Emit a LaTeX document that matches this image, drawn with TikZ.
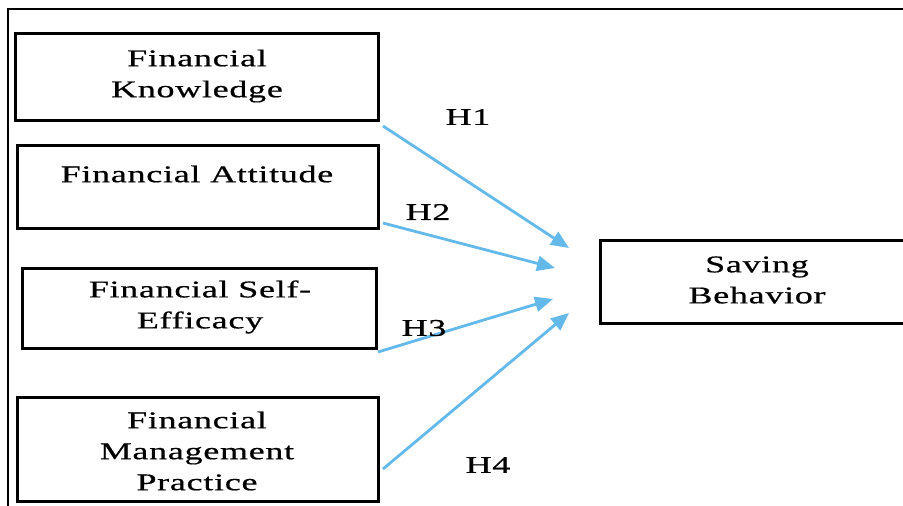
\documentclass[tikz,border=0pt]{standalone}
\usepackage{fontspec}
\setmainfont{Liberation Serif}[FakeStretch=1.5,LetterSpace=3,FakeBold=0.6]
\usetikzlibrary{arrows.meta}
\definecolor{arrowblue}{RGB}{100,185,235}
\tikzset{
  box/.style={draw=black, line width=3pt, inner sep=0pt},
  lbl/.style={font=\fontsize{24}{31}\selectfont, align=center, inner sep=0pt},
  hyp/.style={font=\fontsize{24}{28}\selectfont, inner sep=0pt},
  link/.style={draw=arrowblue, line width=2.8pt, -{Triangle[length=18pt,width=15pt]}},
  frame/.style={line width=1.5pt}
}
\begin{document}
\begin{tikzpicture}[x=1pt,y=-1pt]
\clip (0,0) rectangle (903,506);
\fill[white] (0,0) rectangle (903,506);
% frame lines
\draw[frame] (8,506) -- (8,9) -- (903,9);
% boxes
\draw[box] (15,33) rectangle (378,120);
\node[lbl] (fk) at (197,76) {Financial\\Knowledge};
\draw[box] (17,145) rectangle (378,228);
\node[lbl] (fa) at (197,174) {Financial Attitude};
\draw[box] (22,268) rectangle (376,348);
\node[lbl] (fse) at (200,307) {Financial Self-\\Efficacy};
\draw[box] (17,397) rectangle (378,501);
\node[lbl] (fmp) at (197,451) {Financial\\Management\\Practice};
\draw[box] (600,240) rectangle (915,323);
\node[lbl] (sb) at (757,280) {Saving\\Behavior};
% connector ends
\coordinate (s1) at (383,126);
\coordinate (t1) at (569,248);
\coordinate (s2) at (383,223);
\coordinate (t2) at (555,268);
\coordinate (s3) at (378,352);
\coordinate (t3) at (553,299);
\coordinate (s4) at (383,469);
\coordinate (t4) at (569,313);
\draw[link] (s1) -- (t1);
\draw[link] (s2) -- (t2);
\draw[link] (s3) -- (t3);
\draw[link] (s4) -- (t4);
% labels
\node[hyp] (h1) at (468,117) {H1};
\node[hyp] (h2) at (428,212) {H2};
\node[hyp] (h3) at (424,328) {H3};
\node[hyp] (h4) at (488,465) {H4};
\end{tikzpicture}
\end{document}
